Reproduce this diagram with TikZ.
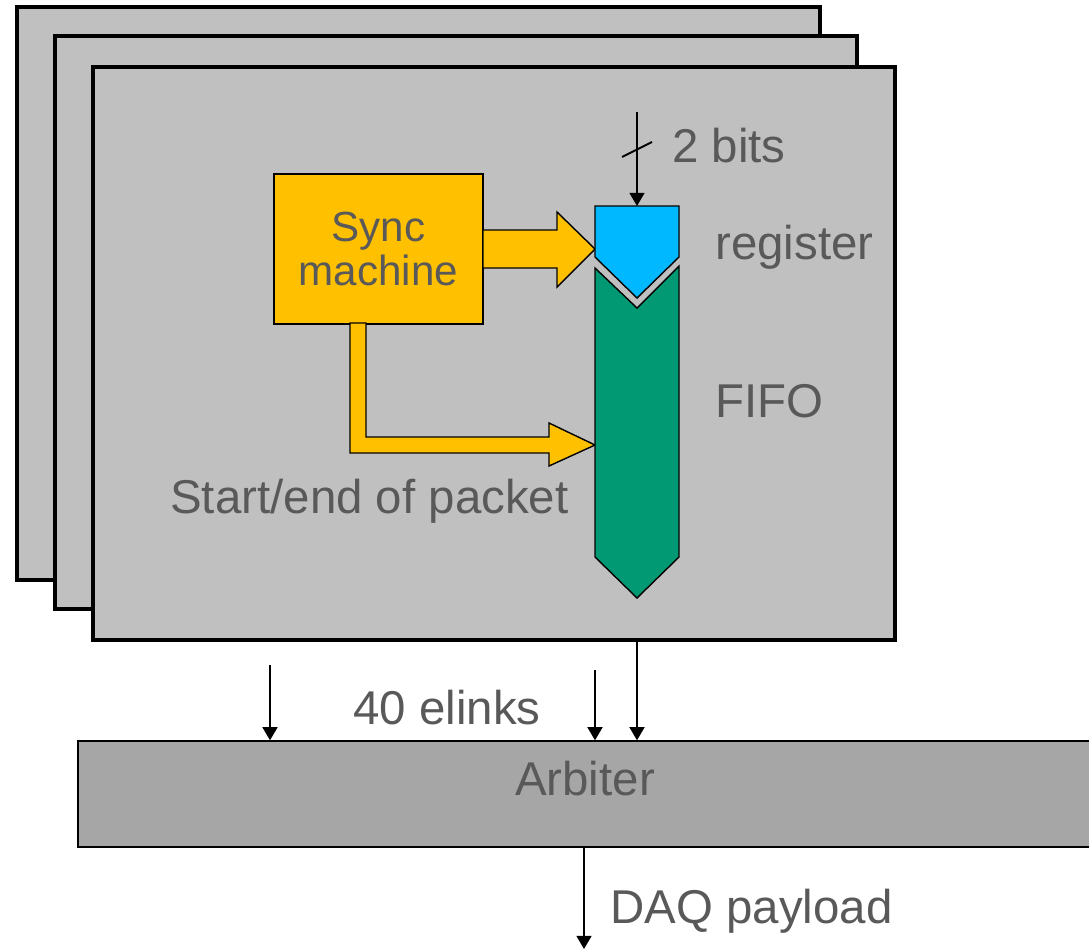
\documentclass[tikz,border=0pt]{standalone}
\usepackage{fontspec}
\setmainfont{Liberation Sans}
\usetikzlibrary{arrows.meta}
\definecolor{boardgray}{HTML}{C0C0C0}
\definecolor{arbgray}{HTML}{A6A6A6}
\definecolor{syncyellow}{HTML}{FFC000}
\definecolor{regblue}{HTML}{00B8FF}
\definecolor{fifogreen}{HTML}{009973}
\definecolor{txtgray}{HTML}{595959}
\tikzset{
  board/.style={fill=boardgray, draw=black, line width=2.3pt},
  blk/.style={draw=black, line width=0.8pt},
  lbl/.style={text=txtgray, font=\fontsize{27}{32}\selectfont, inner sep=0pt},
  sig/.style={-{Triangle[length=7.5pt,width=8.5pt]}, line width=1.1pt},
}

\begin{document}
\begin{tikzpicture}[x=0.02cm, y=-0.02cm]
            \useasboundingbox (0,0) rectangle (1089,951);
            \draw [board] (17,7) rectangle (820,580);
            \draw [board] (55,36) rectangle (857,609);
            \node [board, minimum width=16.04cm, minimum height=11.46cm] (front) at (494,353.5) {};
            \node [blk, fill=syncyellow, minimum width=4.18cm, minimum height=3cm, text=txtgray, align=center, font=\fontsize{24}{25}\selectfont] (sync) at (378.5,249) {Sync\\machine};
            \draw [blk, fill=syncyellow] (483,230) -- (557,230) -- (557,212) -- (595,249) -- (557,287) -- (557,268) -- (483,268) -- cycle;
            \draw [blk, fill=syncyellow] (350,323) -- (366,323) -- (366,437) -- (549,437) -- (549,423) -- (595,445) -- (549,466) -- (549,453) -- (350,453) -- cycle;
            \draw [blk, fill=regblue] (595,206) -- (679,206) -- (679,257) -- (637,298) -- (595,257) -- cycle;
            \draw [blk, fill=fifogreen] (595,268) -- (637,308) -- (679,266) -- (679,557) -- (637,598) -- (595,557) -- cycle;
            \coordinate (regtop) at (637,206);
            \coordinate (bitsin) at (637,112);
            \coordinate (fifotip) at (637,598);
            \draw [sig] (bitsin) -- (regtop);
            \draw [line width=1.1pt] (622,157) -- (652,142);
            \node [lbl, anchor=base west] (bits) at (672,162) {2 bits};
            \node [lbl, anchor=base west] (reglbl) at (715,259) {register};
            \node [lbl, anchor=base west] (fifolbl) at (715,417) {FIFO};
            \node [lbl, anchor=base west] (pkt) at (170,513) {Start/end of packet};
            \node [fill=arbgray, draw=black, line width=0.8pt, minimum width=20.44cm, minimum height=2.12cm] (arbiter) at (589,794) {};
            \node [lbl, anchor=base] (arblbl) at (585,795) {Arbiter};
            \coordinate (elink1) at (270,665);
            \coordinate (elink2) at (595,670);
            \draw [sig] (elink1) -- (elink1 |- arbiter.north);
            \draw [sig] (elink2) -- (elink2 |- arbiter.north);
            \draw [sig] (fifotip |- front.south) -- (fifotip |- arbiter.north);
            \node [lbl, anchor=base] (elinks) at (447,724) {40 elinks};
            \coordinate (daqout) at (584,949);
            \draw [sig] (arbiter.south -| daqout) -- (daqout);
            \node [lbl, anchor=base west] (daqlbl) at (610,923) {DAQ payload};
        \end{tikzpicture}
\end{document}
